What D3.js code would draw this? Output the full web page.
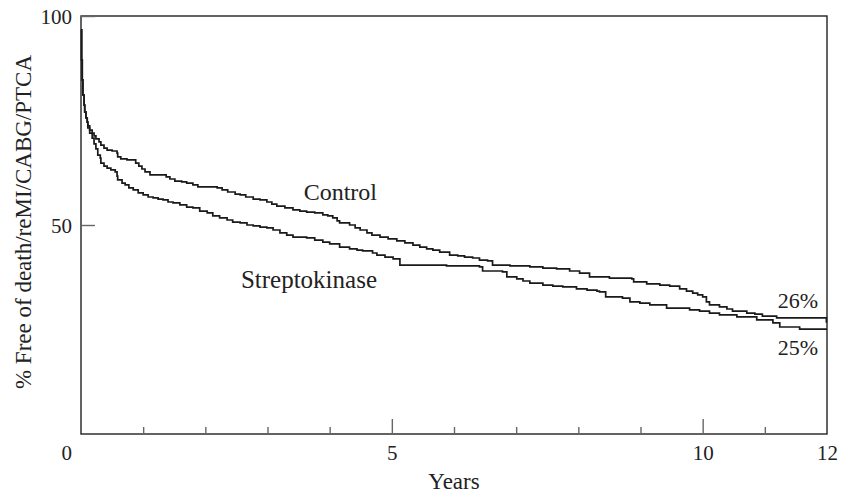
<!DOCTYPE html>
<html lang="en">

<head>
    <meta charset="utf-8" />
    <script src="https://d3js.org/d3.v7.min.js"></script>
    <title>Free of death/reMI/CABG/PTCA</title>
    <style>
        body {
            margin: 0;
            background: #fff;
        }

        svg text {
            font-family: "Liberation Serif", Tinos, "Times New Roman", Times, "Nimbus Roman", FreeSerif,
                "Noto Serif", "DejaVu Serif", Georgia, serif !important;
        }
    </style>
</head>

<body>
    <div id="chart"></div>

    <script>
        // series names and end labels
        var seriesNames = ["Control", "Streptokinase"];
        var endLabels = ["26%", "25%"];

        // Control: years at which the curve steps down, and % free of event after the step
        var controlYears = [0, 0.01, 0.02, 0.03, 0.05, 0.06, 0.08, 0.10, 0.11, 0.14, 0.18, 0.21, 0.24, 0.29, 0.32, 0.37,
            0.42, 0.50, 0.58, 0.59, 0.64, 0.74, 0.88, 0.93, 0.98, 1.03, 1.11, 1.37, 1.43, 1.51, 1.62, 1.70, 1.80, 1.88,
            2.19, 2.27, 2.36, 2.48, 2.56, 2.65, 2.77, 2.88, 2.99, 3.07, 3.15, 3.28, 3.41, 3.52, 3.63, 3.76, 3.89, 3.97,
            4.05, 4.12, 4.16, 4.32, 4.41, 4.49, 4.60, 4.68, 4.81, 4.94, 5.08, 5.21, 5.34, 5.45, 5.56, 5.66, 5.77, 5.93,
            6.06, 6.17, 6.30, 6.41, 6.54, 6.62, 6.90, 7.22, 7.43, 7.65, 7.86, 8.02, 8.18, 8.50, 8.86, 8.89, 9.10, 9.31,
            9.47, 9.63, 9.74, 9.84, 9.92, 10.00, 10.06, 10.11, 10.27, 10.39, 10.48, 10.71, 10.84, 10.96, 11.19, 11.99, 12];
        var controlPct = [96.7, 89.5, 84.7, 81.1, 78.7, 77.0, 75.6, 74.6, 73.7, 72.7, 72.0, 71.3, 70.6, 69.9, 69.1, 68.4,
            67.9, 67.7, 67.2, 66.3, 65.8, 65.6, 64.8, 64.1, 63.4, 62.7, 62.0, 61.5, 61.0, 60.5, 60.3, 60.0, 59.6, 59.1,
            58.9, 58.4, 57.9, 57.4, 57.2, 56.7, 56.2, 56.0, 55.5, 55.0, 54.5, 54.1, 53.6, 53.3, 53.1, 52.9, 52.4, 52.2,
            51.7, 51.0, 50.5, 50.0, 49.3, 48.8, 48.1, 47.6, 47.1, 46.7, 46.2, 45.7, 45.2, 44.7, 44.3, 44.0, 43.5, 42.8,
            42.6, 42.3, 42.1, 41.6, 41.4, 40.4, 40.2, 40.0, 39.7, 39.5, 39.0, 38.5, 37.6, 37.3, 37.1, 36.4, 35.9, 35.6,
            35.4, 34.7, 34.2, 33.7, 33.3, 32.8, 31.6, 30.9, 30.4, 29.9, 29.4, 28.9, 28.7, 28.2, 27.8, 26.8, 26.8];

        // Streptokinase
        var strepYears = [0, 0.01, 0.02, 0.03, 0.05, 0.06, 0.08, 0.10, 0.11, 0.14, 0.18, 0.21, 0.24, 0.27, 0.31, 0.32,
            0.37, 0.42, 0.48, 0.55, 0.58, 0.59, 0.66, 0.71, 0.77, 0.84, 0.92, 1.00, 1.08, 1.16, 1.24, 1.32, 1.40, 1.48,
            1.59, 1.70, 1.80, 1.91, 2.03, 2.12, 2.23, 2.35, 2.44, 2.56, 2.67, 2.77, 2.88, 2.99, 3.09, 3.20, 3.31, 3.41,
            3.63, 3.76, 3.89, 4.00, 4.16, 4.32, 4.44, 4.53, 4.69, 4.76, 4.89, 5.02, 5.13, 5.88, 6.41, 6.46, 6.78, 6.85,
            7.01, 7.11, 7.22, 7.43, 7.59, 7.75, 7.97, 8.14, 8.30, 8.34, 8.44, 8.71, 8.83, 8.99, 9.15, 9.42, 9.79, 9.95,
            10.11, 10.27, 10.55, 10.87, 11.13, 11.24, 11.56, 12];
        var strepPct = [96.7, 89.5, 84.7, 81.1, 78.7, 77.0, 75.6, 74.6, 73.2, 72.0, 70.8, 69.4, 68.2, 66.7, 66.0, 64.8,
            64.1, 63.6, 63.2, 62.7, 61.7, 60.8, 60.0, 59.6, 58.9, 58.4, 57.7, 57.2, 56.7, 56.5, 56.2, 56.0, 55.5, 55.3,
            54.8, 54.3, 54.1, 53.3, 52.9, 52.2, 51.7, 51.2, 50.7, 50.5, 50.0, 49.8, 49.5, 49.3, 48.8, 48.1, 47.6, 47.1,
            46.9, 46.4, 45.9, 45.5, 44.7, 44.3, 44.0, 43.8, 43.3, 42.8, 42.3, 41.9, 40.4, 40.2, 40.0, 39.0, 38.8, 37.6,
            37.1, 36.6, 36.1, 35.6, 35.4, 35.2, 34.7, 34.4, 34.2, 34.0, 32.8, 32.5, 31.6, 31.3, 30.9, 30.1, 29.7, 29.4,
            28.9, 28.5, 28.0, 27.3, 26.6, 25.6, 25.1, 25.1];

        // axis ticks
        var xMajorTicks = [5, 10];
        var xMinorTicks = [1, 2, 3, 4, 6, 7, 8, 9, 11];
        var xTickLabels = [5, 10, 12];
        var yTicks = [50, 100];
        var xTitle = "Years";
        var yTitle = "% Free of death/reMI/CABG/PTCA";

        var width = 842, height = 494;
        var margin = { top: 16, right: 15, bottom: 60, left: 81 };

        var svg = d3.select("#chart")
            .append("svg")
            .attr("width", width)
            .attr("height", height);

        var x = d3.scaleLinear().domain([0, 12]).range([margin.left, width - margin.right]);
        var y = d3.scaleLinear().domain([0, 100]).range([height - margin.bottom, margin.top]);

        // frame
        svg.append("rect")
            .attr("x", x(0))
            .attr("y", y(100))
            .attr("width", x(12) - x(0))
            .attr("height", y(0) - y(100))
            .attr("fill", "none")
            .attr("stroke", "#222")
            .attr("stroke-width", 1.4);

        // x ticks point inwards
        var xMinor = svg.append("g")
            .attr("transform", "translate(0," + y(0) + ")")
            .call(d3.axisBottom(x).tickValues(xMinorTicks).tickSize(-7).tickFormat(""));
        var xMajor = svg.append("g")
            .attr("transform", "translate(0," + y(0) + ")")
            .call(d3.axisBottom(x).tickValues(xMajorTicks).tickSize(-15).tickFormat(""));
        var xLabels = svg.append("g")
            .attr("transform", "translate(0," + y(0) + ")")
            .call(d3.axisBottom(x).tickValues(xTickLabels).tickSize(0).tickPadding(11));

        var yAxis = svg.append("g")
            .attr("transform", "translate(" + x(0) + ",0)")
            .call(d3.axisLeft(y).tickValues(yTicks).tickSize(-14).tickPadding(9));

        [xMinor, xMajor, xLabels, yAxis].forEach(function (g) {
            g.select(".domain").remove();
            g.selectAll(".tick line").attr("stroke", "#666").attr("stroke-width", 1.4);
            g.selectAll("text").attr("fill", "#222").style("font-size", "21px");
        });
        yAxis.selectAll(".tick text").attr("dy", "0.36em");

        // the 0 sits below the corner, aligned with the y labels
        svg.append("text")
            .attr("x", x(0) - 9)
            .attr("y", y(0) + 26)
            .attr("text-anchor", "end")
            .attr("fill", "#222")
            .style("font-size", "21px")
            .text("0");

        svg.append("text")
            .attr("x", (x(0) + x(12)) / 2)
            .attr("y", 489)
            .attr("text-anchor", "middle")
            .attr("fill", "#222")
            .style("font-size", "23px")
            .text(xTitle);

        svg.append("text")
            .attr("transform", "rotate(-90)")
            .attr("x", -222)
            .attr("y", 31)
            .attr("text-anchor", "middle")
            .attr("fill", "#222")
            .style("font-size", "23px")
            .text(yTitle);

        // survival curves
        var line = d3.line()
            .x(function (d) { return x(d[0]); })
            .y(function (d) { return y(d[1]); })
            .curve(d3.curveStepAfter);

        var curves = [d3.zip(controlYears, controlPct), d3.zip(strepYears, strepPct)];

        svg.selectAll("path.curve")
            .data(curves)
            .enter()
            .append("path")
            .attr("class", "curve")
            .attr("d", line)
            .attr("fill", "none")
            .attr("stroke", "#1a1a1a")
            .attr("stroke-width", 1.7);

        // curve names
        var nameY = [200, 288];
        var nameSize = [24, 25];
        svg.selectAll("text.name")
            .data(seriesNames)
            .enter()
            .append("text")
            .attr("class", "name")
            .attr("x", 377)
            .attr("y", function (d, i) { return nameY[i]; })
            .attr("text-anchor", "end")
            .attr("fill", "#222")
            .style("font-size", function (d, i) { return nameSize[i] + "px"; })
            .text(function (d) { return d; });

        // end percentages
        var endY = [308, 355];
        svg.selectAll("text.end")
            .data(endLabels)
            .enter()
            .append("text")
            .attr("class", "end")
            .attr("x", 818)
            .attr("y", function (d, i) { return endY[i]; })
            .attr("text-anchor", "end")
            .attr("fill", "#222")
            .style("font-size", "22px")
            .text(function (d) { return d; });
    </script>
</body>

</html>
